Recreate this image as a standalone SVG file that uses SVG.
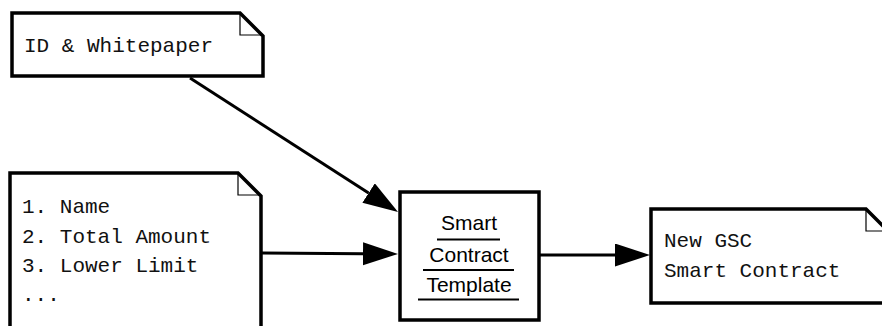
<svg xmlns="http://www.w3.org/2000/svg" width="882" height="326" viewBox="0 0 882 326">
  <style>
    .box { fill: #fff; stroke: #000; stroke-width: 3.5; stroke-linejoin: miter; }
    .fold { fill: none; stroke: #000; stroke-width: 1.2; }
    .mono { font-family: "Liberation Mono", "Courier New", monospace; font-size: 21px; fill: #111; }
    .sans { font-family: "Liberation Sans", Arial, sans-serif; font-size: 21px; fill: #000; text-anchor: middle; }
    .rule { stroke: #000; stroke-width: 2; }
    .edge { fill: none; stroke: #000; stroke-width: 3; }
  </style>
  <defs>
    <marker id="arrow" markerUnits="userSpaceOnUse" markerWidth="36" markerHeight="24" refX="0" refY="11.5" orient="auto" viewBox="0 0 36 24">
      <path d="M0,0 L35,11.5 L0,23 Z" fill="#000"/>
    </marker>
  </defs>

  <g id="connectors">
    <path class="edge" d="M190,78 L368.6,193" marker-end="url(#arrow)"/>
    <path class="edge" d="M262,253 L363,253.7" marker-end="url(#arrow)"/>
    <path class="edge" d="M540,255 L615,255" marker-end="url(#arrow)"/>
  </g>

  <g id="id-whitepaper">
    <path class="box" d="M12,13 H240 L263,36 V76 H12 Z"/>
    <path class="fold" d="M240,13 V35 H263"/>
    <text class="mono" x="24" y="52">ID &amp; Whitepaper</text>
  </g>

  <g id="parameters">
    <path class="box" d="M10,173 H238 L261,196 V340 H10 Z"/>
    <path class="fold" d="M238,173 V195 H261"/>
    <text class="mono" x="22" y="213">1. Name</text>
    <text class="mono" x="22" y="242.5">2. Total Amount</text>
    <text class="mono" x="22" y="272">3. Lower Limit</text>
    <text class="mono" x="22" y="301">...</text>
  </g>

  <g id="template">
    <rect class="box" x="400" y="192" width="139" height="128"/>
    <text class="sans" x="469" y="230">Smart</text>
    <line class="rule" x1="437" y1="239.5" x2="500" y2="239.5"/>
    <text class="sans" x="469" y="262">Contract</text>
    <line class="rule" x1="423" y1="270" x2="514" y2="270"/>
    <text class="sans" x="469" y="292">Template</text>
    <line class="rule" x1="418" y1="299.5" x2="519" y2="299.5"/>
  </g>

  <g id="new-gsc">
    <path class="box" d="M651,209 H866 L888,231 V303 H651 Z"/>
    <path class="fold" d="M866,209 V231 H888"/>
    <text class="mono" x="664" y="247">New GSC</text>
    <text class="mono" x="664" y="277">Smart Contract</text>
  </g>
</svg>
